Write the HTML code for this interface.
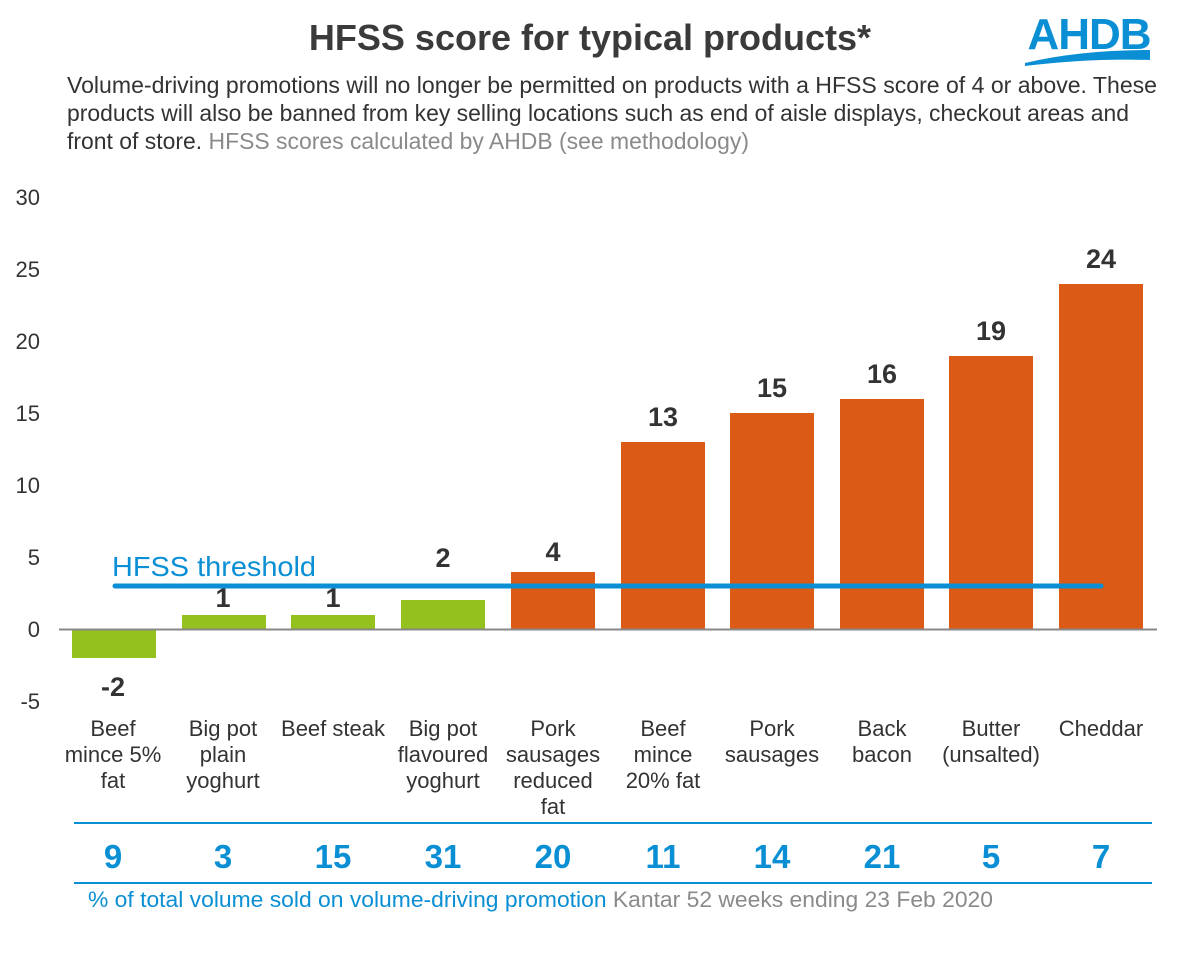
<!DOCTYPE html>
<html><head><meta charset="utf-8"><style>body{margin:0;background:#fff}svg text{font-family:"Liberation Sans",Arial,sans-serif}</style></head>
<body>
<svg width="1179" height="949" viewBox="0 0 1179 949" xmlns="http://www.w3.org/2000/svg">
<text x="590" y="50" text-anchor="middle" font-size="36" font-weight="bold" fill="#3a3a3a">HFSS score for typical products*</text>
<text x="1089" y="49" text-anchor="middle" font-size="44" font-weight="bold" fill="#0a8fd4" letter-spacing="-1">AHDB</text>
<path d="M1025 63 Q1080 50 1150 50 L1150 60 Q1090 58 1025 66 Z" fill="#0a8fd4"/>
<g font-size="23" fill="#333" textLength="1090">
<text x="67" y="93" textLength="1090" lengthAdjust="spacingAndGlyphs">Volume-driving promotions will no longer be permitted on products with a HFSS score of 4 or above.  These</text>
<text x="67" y="121" textLength="1062" lengthAdjust="spacingAndGlyphs">products will also be banned from key selling locations such as end of aisle displays, checkout areas and</text>
<text x="67" y="149" textLength="682" lengthAdjust="spacingAndGlyphs">front of store. <tspan fill="#8a8a8a">HFSS scores calculated by AHDB (see methodology)</tspan></text>
</g>
<g font-size="22" fill="#333" text-anchor="end">
<text x="40" y="205">30</text><text x="40" y="277">25</text><text x="40" y="349">20</text><text x="40" y="421">15</text><text x="40" y="493">10</text><text x="40" y="565">5</text><text x="40" y="637">0</text><text x="40" y="709">-5</text>
</g>
<g fill="#95c11f">
<rect x="72" y="629" width="84" height="29"/>
<rect x="182" y="615" width="84" height="14"/>
<rect x="291" y="615" width="84" height="14"/>
<rect x="401" y="600" width="84" height="29"/>
</g>
<g fill="#db5a16">
<rect x="511" y="572" width="84" height="57"/>
<rect x="621" y="442" width="84" height="187"/>
<rect x="730" y="413" width="84" height="216"/>
<rect x="840" y="399" width="84" height="230"/>
<rect x="949" y="356" width="84" height="273"/>
<rect x="1059" y="284" width="84" height="345"/>
</g>
<line x1="59" y1="629.5" x2="1157" y2="629.5" stroke="#888" stroke-width="2"/>
<line x1="115" y1="586" x2="1101" y2="586" stroke="#0a8fd4" stroke-width="5" stroke-linecap="round"/>
<text x="112" y="576" font-size="28" fill="#0a8fd4" textLength="204" lengthAdjust="spacingAndGlyphs">HFSS threshold</text>
<g font-size="27" font-weight="bold" fill="#333" text-anchor="middle">
<text x="113" y="696">-2</text><text x="223" y="607">1</text><text x="333" y="607">1</text><text x="443" y="567">2</text><text x="553" y="561">4</text><text x="663" y="426">13</text><text x="772" y="397">15</text><text x="882" y="383">16</text><text x="991" y="340">19</text><text x="1101" y="268">24</text>
</g>
<g font-size="22" fill="#333" text-anchor="middle">
<text x="113" y="736">Beef</text><text x="113" y="762">mince 5%</text><text x="113" y="788">fat</text>
<text x="223" y="736">Big pot</text><text x="223" y="762">plain</text><text x="223" y="788">yoghurt</text>
<text x="333" y="736">Beef steak</text>
<text x="443" y="736">Big pot</text><text x="443" y="762">flavoured</text><text x="443" y="788">yoghurt</text>
<text x="553" y="736">Pork</text><text x="553" y="762">sausages</text><text x="553" y="788">reduced</text><text x="553" y="814">fat</text>
<text x="663" y="736">Beef</text><text x="663" y="762">mince</text><text x="663" y="788">20% fat</text>
<text x="772" y="736">Pork</text><text x="772" y="762">sausages</text>
<text x="882" y="736">Back</text><text x="882" y="762">bacon</text>
<text x="991" y="736">Butter</text><text x="991" y="762">(unsalted)</text>
<text x="1101" y="736">Cheddar</text>
</g>
<line x1="74" y1="823" x2="1152" y2="823" stroke="#0a8fd4" stroke-width="2"/>
<line x1="74" y1="883" x2="1152" y2="883" stroke="#0a8fd4" stroke-width="2"/>
<g font-size="33" font-weight="bold" fill="#0a8fd4" text-anchor="middle">
<text x="113" y="868">9</text><text x="223" y="868">3</text><text x="333" y="868">15</text><text x="443" y="868">31</text><text x="553" y="868">20</text><text x="663" y="868">11</text><text x="772" y="868">14</text><text x="882" y="868">21</text><text x="991" y="868">5</text><text x="1101" y="868">7</text>
</g>
<text x="88" y="907" font-size="22" fill="#0a8fd4" textLength="905" lengthAdjust="spacingAndGlyphs">% of total volume sold on volume-driving promotion <tspan fill="#8a8a8a">Kantar 52 weeks ending 23 Feb 2020</tspan></text>
</svg>
</body></html>
